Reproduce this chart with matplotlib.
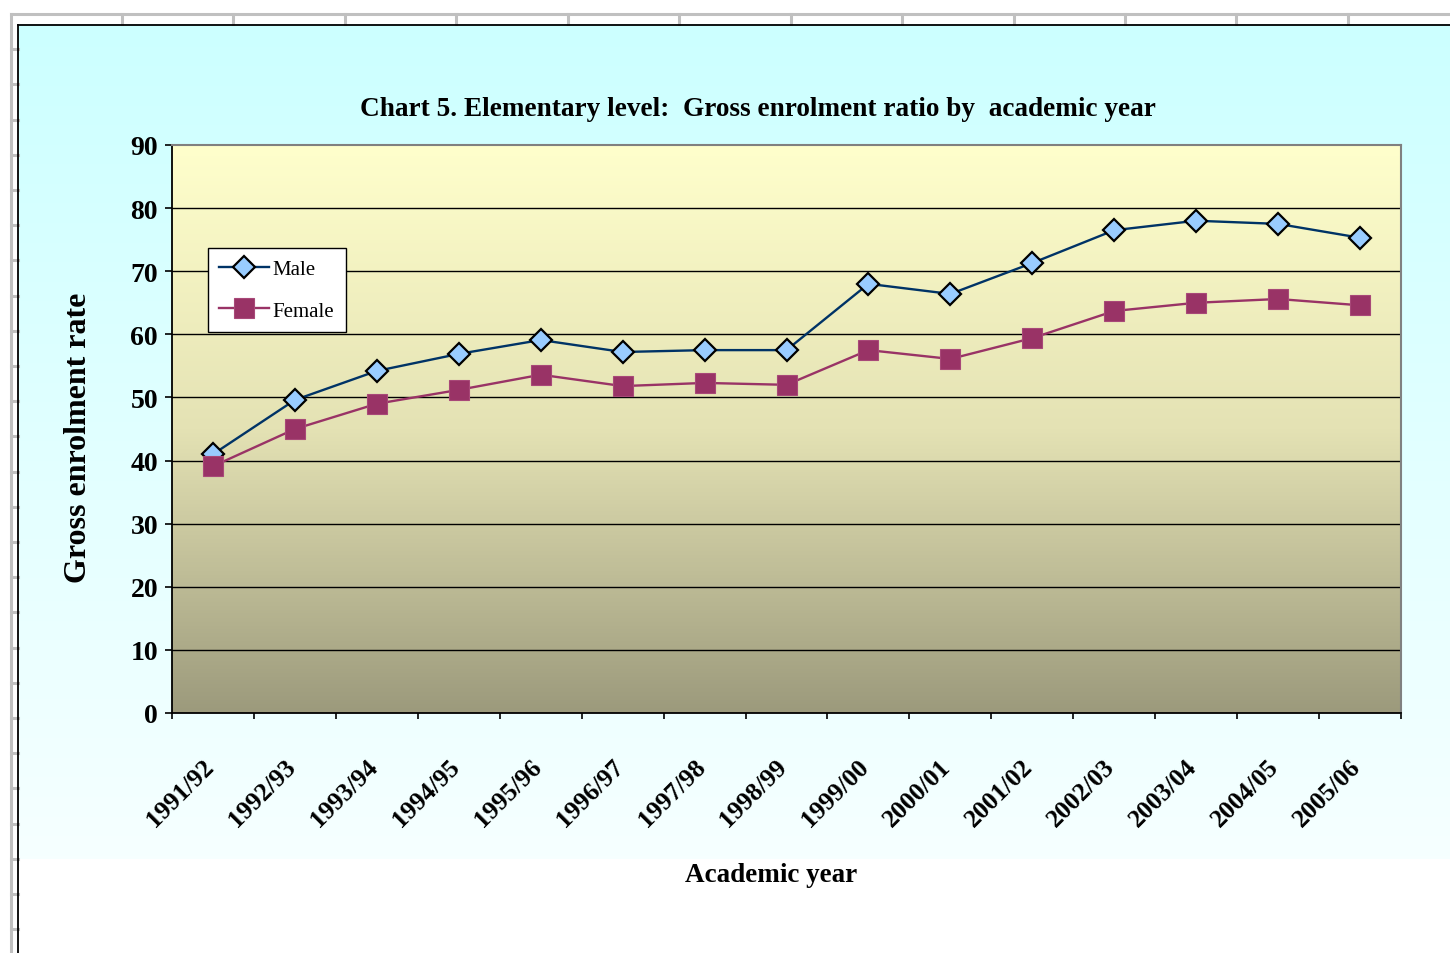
import numpy as np
import matplotlib
matplotlib.use("Agg")
import matplotlib.pyplot as plt
from matplotlib.colors import LinearSegmentedColormap
from matplotlib.transforms import ScaledTranslation

# ---- data ----
years = ["1991/92", "1992/93", "1993/94", "1994/95", "1995/96", "1996/97", "1997/98",
         "1998/99", "1999/00", "2000/01", "2001/02", "2002/03", "2003/04", "2004/05", "2005/06"]
male = [41.0, 49.6, 54.2, 56.9, 59.1, 57.2, 57.5, 57.5, 68.0, 66.4, 71.3, 76.5, 78.0, 77.5, 75.3]
female = [39.1, 45.0, 49.0, 51.2, 53.6, 51.8, 52.3, 52.0, 57.5, 56.1, 59.4, 63.7, 65.0, 65.6, 64.6]
yticks = [0, 10, 20, 30, 40, 50, 60, 70, 80, 90]

title = "Chart 5. Elementary level:  Gross enrolment ratio by  academic year"
xlabel = "Academic year"
ylabel = "Gross enrolment rate"

W, H = 1450, 954
SERIF = ["Liberation Serif", "DejaVu Serif"]

fig = plt.figure(figsize=(W / 100, H / 100), dpi=100)
fig.patch.set_facecolor("white")

# ---- background (spreadsheet + chart area) ----
bg = fig.add_axes([0, 0, 1, 1], zorder=0)
bg.set_xlim(0, W)
bg.set_ylim(H, 0)
bg.axis("off")

cmap_chart = LinearSegmentedColormap.from_list("chart", ["#CCFFFF", "#F6FFFF"])
grad = np.linspace(0, 1, 256).reshape(-1, 1)
bg.imshow(grad, cmap=cmap_chart, extent=[18.5, W, 860, 25.5], aspect="auto", zorder=0)

gray = "#C0C0C0"
bg.plot([11, W], [15, 15], color=gray, lw=2.2, zorder=1)
bg.plot([11, 11], [15, H], color=gray, lw=2.2, zorder=1)
for k in range(13):
    xx = 122 + 111.45 * k
    if xx < W:
        bg.plot([xx, xx], [15, 25], color=gray, lw=2.2, zorder=1)
for k in range(1, 28):
    yy = 15 + 35.2 * k
    if yy < H:
        bg.plot([11, 18], [yy, yy], color=gray, lw=2.2, zorder=1)
bg.plot([18.5, W], [25.5, 25.5], color="black", lw=1.3, zorder=2)
bg.plot([18.5, 18.5], [25.5, H], color="black", lw=1.3, zorder=2)

# ---- main plot ----
left, right, top, bottom = 172, 1401, 146, 714
ax = fig.add_axes([left / W, 1 - bottom / H, (right - left) / W, (bottom - top) / H], zorder=1)
n = len(years)
x = np.arange(n)
ax.set_xlim(-0.5, n - 0.5)
ax.set_ylim(0, 90)

cmap_plot = LinearSegmentedColormap.from_list("plot", ["#FFFFCC", "#E4E2B4", "#9C9A7C"])
ax.imshow(grad, cmap=cmap_plot, extent=[-0.5, n - 0.5, 0, 90], aspect="auto", zorder=0)

for yv in yticks[1:-1]:
    ax.axhline(yv, color="black", lw=1.0, zorder=1)

ax.plot(x, male, color="#003366", lw=1.7, marker="D", markersize=11,
        markerfacecolor="#99CCFF", markeredgecolor="black", markeredgewidth=1.6,
        label="Male", zorder=3)
ax.plot(x, female, color="#993366", lw=1.7, marker="s", markersize=14,
        markerfacecolor="#993366", markeredgecolor="#A84878", markeredgewidth=0.8,
        label="Female", zorder=3)

for s in ["top", "right"]:
    ax.spines[s].set_color("#808080")
    ax.spines[s].set_linewidth(1.5)
for s in ["left", "bottom"]:
    ax.spines[s].set_color("black")
    ax.spines[s].set_linewidth(1.3)

ax.set_yticks(yticks)
ax.set_yticklabels([str(v) for v in yticks], fontsize=20, fontweight="bold", family=SERIF)
ax.tick_params(axis="y", direction="out", length=5, width=1.2, pad=5)

ax.set_xticks(x)
ax.set_xticklabels(years, fontsize=18.5, fontweight="bold", family=SERIF,
                   rotation=45, ha="right", va="top", rotation_mode="anchor")
ax.tick_params(axis="x", which="major", length=0, pad=30)
ax.set_xticks(np.arange(-0.5, n, 1.0), minor=True)
ax.tick_params(axis="x", which="minor", direction="out", length=4.5, width=1.2)
shift = ScaledTranslation(-0.11, 0.0, fig.dpi_scale_trans)
for lab in ax.get_xticklabels():
    lab.set_transform(lab.get_transform() + shift)

# ---- texts ----
fig.text(758 / W, 1 - 110 / H, title, fontsize=19.6, fontweight="bold", family=SERIF,
         ha="center", va="center")
fig.text(79 / W, 1 - 438 / H, ylabel, fontsize=23, fontweight="bold", family=SERIF,
         ha="center", va="center", rotation=90)
fig.text(771 / W, 1 - 875 / H, xlabel, fontsize=19.5, fontweight="bold", family=SERIF,
         ha="center", va="center")

# ---- legend ----
leg = ax.legend(loc="upper left", bbox_to_anchor=(208 / W, 1 - 249 / H),
                bbox_transform=fig.transFigure, prop={"family": SERIF, "size": 15},
                frameon=True, fancybox=False, framealpha=1, edgecolor="black",
                handlelength=2.4, handletextpad=0.15, borderpad=0.55, labelspacing=1.05,
                borderaxespad=0)
leg.get_frame().set_linewidth(1.0)
leg.get_frame().set_facecolor("white")

fig.savefig("out.png", dpi=100)
